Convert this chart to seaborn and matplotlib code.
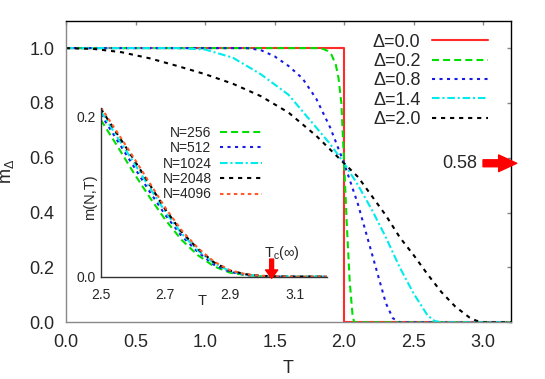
import numpy as np
import pandas as pd
import matplotlib
matplotlib.use("Agg")
import matplotlib.pyplot as plt
import seaborn as sns

# ---------------- data ----------------
delta_labels = ["Δ=0.0", "Δ=0.2", "Δ=0.8", "Δ=1.4", "Δ=2.0"]

T_d00 = [0.0, 2.0, 2.0, 3.2]
m_d00 = [1.0, 1.0, 0.0, 0.0]

T_d02 = [0.0, 1.80, 1.85, 1.88, 1.91, 1.94, 1.96, 1.98, 2.00, 2.02, 2.04, 2.06, 2.07, 2.08, 3.2]
m_d02 = [1.0, 1.00, 0.997, 0.99, 0.975, 0.94, 0.89, 0.80, 0.58, 0.35, 0.15, 0.03, 0.005, 0.0, 0.0]

T_d08 = [0.0, 1.3, 1.4, 1.5, 1.6, 1.7, 1.8, 1.9, 2.0, 2.1, 2.2, 2.25, 2.3, 2.35, 2.4, 3.2]
m_d08 = [1.0, 1.0, 0.993, 0.97, 0.935, 0.89, 0.815, 0.71, 0.58, 0.43, 0.25, 0.16, 0.07, 0.015, 0.0, 0.0]

T_d14 = [0.0, 0.8, 1.0, 1.2, 1.4, 1.6, 1.8, 1.9, 2.0, 2.1, 2.2, 2.3, 2.4, 2.5, 2.6, 2.65, 2.7, 3.2]
m_d14 = [1.0, 1.0, 0.995, 0.965, 0.905, 0.83, 0.71, 0.65, 0.58, 0.50, 0.41, 0.31, 0.20, 0.105, 0.025, 0.005, 0.0, 0.0]

T_d20 = [0.0, 0.2, 0.4, 0.6, 0.8, 1.0, 1.2, 1.4, 1.6, 1.8, 2.0, 2.1, 2.2, 2.3, 2.4, 2.5, 2.6, 2.7, 2.8, 2.9, 2.95, 3.0, 3.2]
m_d20 = [1.0, 0.997, 0.985, 0.963, 0.935, 0.905, 0.87, 0.825, 0.765, 0.68, 0.58, 0.53, 0.46, 0.39, 0.31, 0.245, 0.175, 0.11, 0.057, 0.018, 0.006, 0.0, 0.0]

# inset: finite-size magnetisation
N_labels = ["N=256", "N=512", "N=1024", "N=2048", "N=4096"]
T_in = [2.5, 2.55, 2.6, 2.65, 2.7, 2.75, 2.8, 2.85, 2.9, 2.95, 3.0, 3.05, 3.1, 3.2]
m_N256 = [0.196, 0.164, 0.131, 0.100, 0.071, 0.046, 0.027, 0.013, 0.005, 0.002, 0.0005, 0.0002, 0.0, 0.0]
m_N512 = [0.203, 0.171, 0.139, 0.107, 0.077, 0.051, 0.031, 0.015, 0.006, 0.002, 0.0007, 0.0002, 0.0, 0.0]
m_N1024 = [0.207, 0.175, 0.144, 0.112, 0.081, 0.054, 0.033, 0.017, 0.007, 0.0025, 0.0008, 0.0003, 0.0, 0.0]
m_N2048 = [0.210, 0.179, 0.148, 0.116, 0.084, 0.056, 0.035, 0.018, 0.0075, 0.003, 0.001, 0.0003, 0.0, 0.0]
m_N4096 = [0.212, 0.181, 0.150, 0.118, 0.086, 0.058, 0.036, 0.019, 0.008, 0.003, 0.001, 0.0003, 0.0, 0.0]

m_cross = 0.58
Tc_inf = 3.029

# ---------------- style ----------------
sns.set_style("white")
plt.rcParams["font.family"] = ["Liberation Sans", "DejaVu Sans"]
plt.rcParams["mathtext.default"] = "regular"
plt.rcParams["lines.scale_dashes"] = False

main_colors = ["#ff2a2a", "#00e000", "#1a1ae6", "#00ecec", "#000000"]
main_styles = ["-", (0, (5, 3)), (0, (2.2, 3.2)), (0, (5.5, 2, 1.5, 2)), (0, (3, 3.5))]
in_colors = ["#00e000", "#1a1ae6", "#00ecec", "#000000", "#ff5a28"]
in_styles = [(0, (5, 3)), (0, (2.2, 3.2)), (0, (5.5, 2, 1.5, 2)), (0, (3, 3.5)), (0, (2.5, 2.5))]

fig = plt.figure(figsize=(5.45, 3.79), dpi=100)
ax = fig.add_axes([0.1211, 0.1496, 0.8165, 0.7958])

main_T = [T_d00, T_d02, T_d08, T_d14, T_d20]
main_m = [m_d00, m_d02, m_d08, m_d14, m_d20]
for T, m, c, ls in zip(main_T, main_m, main_colors, main_styles):
    sns.lineplot(x=T, y=m, ax=ax, color=c, linestyle=ls, lw=1.5,
                 estimator=None, sort=False, legend=False)

ax.set_xlim(0, 3.2)
ax.set_ylim(0, 1.1)
ax.set_xticks([0.0, 0.5, 1.0, 1.5, 2.0, 2.5, 3.0])
ax.set_xticklabels(["0.0", "0.5", "1.0", "1.5", "2.0", "2.5", "3.0"])
ax.set_yticks([0.0, 0.2, 0.4, 0.6, 0.8, 1.0])
ax.set_yticklabels(["0.0", "0.2", "0.4", "0.6", "0.8", "1.0"])
ax.tick_params(direction="in", length=3, width=1, color="#888888", labelsize=13,
               pad=8.5, top=True, right=True)
for s in ["left", "bottom"]:
    ax.spines[s].set_color("#888888")
for s in ["top", "right"]:
    ax.spines[s].set_color("#000000")
for s in ax.spines.values():
    s.set_linewidth(1.0)

ax.set_xlabel("T", fontsize=13)
ax.set_ylabel("m$_{\\Delta}$", fontsize=13)
ax.xaxis.set_label_coords(0.5, -0.125)
ax.yaxis.set_label_coords(-0.113, 0.5)

lines = ax.get_lines()[:5]
ax.legend(lines, delta_labels, loc="upper right", bbox_to_anchor=(0.896, 0.911),
          bbox_transform=fig.transFigure, frameon=False, markerfirst=False,
          handlelength=3.1, handletextpad=0.65, labelspacing=0.13,
          borderpad=0, borderaxespad=0, fontsize=13)

# 0.58 arrow
ax.text(2.956, m_cross, "0.58", ha="right", va="center", fontsize=13)
ax.annotate("", xy=(3.241, m_cross), xytext=(2.999, m_cross),
            arrowprops=dict(arrowstyle="simple,head_length=1.3,head_width=1.2,tail_width=0.5",
                            color="#ff0000", shrinkA=0, shrinkB=0, mutation_scale=10),
            annotation_clip=False)

# ---------------- inset ----------------
ax_in = fig.add_axes([0.185, 0.270, 0.4147, 0.4442])
ax_in.set_facecolor("none")
in_m = [m_N256, m_N512, m_N1024, m_N2048, m_N4096]
for m, c, ls in zip(in_m, in_colors, in_styles):
    sns.lineplot(x=T_in, y=m, ax=ax_in, color=c, linestyle=ls, lw=1.5,
                 estimator=None, sort=False, legend=False)
ax_in.set_xlim(2.5, 3.2)
ax_in.set_ylim(0, 0.2105)
ax_in.set_xticks([2.5, 2.7, 2.9, 3.1])
ax_in.set_xticklabels(["2.5", "2.7", "2.9", "3.1"])
ax_in.set_yticks([0.0, 0.1, 0.2])
ax_in.set_yticklabels(["0.0", "", "0.2"])
ax_in.tick_params(direction="in", length=3, width=1, color="#555555", labelsize=10)
ax_in.tick_params(axis="x", pad=8)
ax_in.tick_params(axis="y", pad=3.5)
for s in ["top", "right"]:
    ax_in.spines[s].set_visible(False)
for s in ["left", "bottom"]:
    ax_in.spines[s].set_color("#333333")
    ax_in.spines[s].set_linewidth(1.0)
ax_in.set_xlabel("T", fontsize=10.5)
ax_in.set_ylabel("m(N,T)", fontsize=10.5)
ax_in.xaxis.set_label_coords(0.446, -0.105)
ax_in.yaxis.set_label_coords(-0.015, 0.473)

in_lines = ax_in.get_lines()[:5]
ax_in.legend(in_lines, N_labels, loc="upper right", bbox_to_anchor=(0.480, 0.668),
             bbox_transform=fig.transFigure, frameon=False, markerfirst=False,
             handlelength=3.0, handletextpad=0.6, labelspacing=0.1,
             borderpad=0, borderaxespad=0, fontsize=10)

ax_in.annotate("", xy=(Tc_inf, -0.002), xytext=(Tc_inf, 0.022),
               arrowprops=dict(arrowstyle="simple,head_length=0.75,head_width=1.1,tail_width=0.35",
                               color="#ff0000", shrinkA=0, shrinkB=0, mutation_scale=8),
               annotation_clip=False)
ax_in.text(3.06, 0.0245, "T$_c$(∞)", ha="center", va="baseline", fontsize=10.5)

fig.savefig("out.png", dpi=100)
